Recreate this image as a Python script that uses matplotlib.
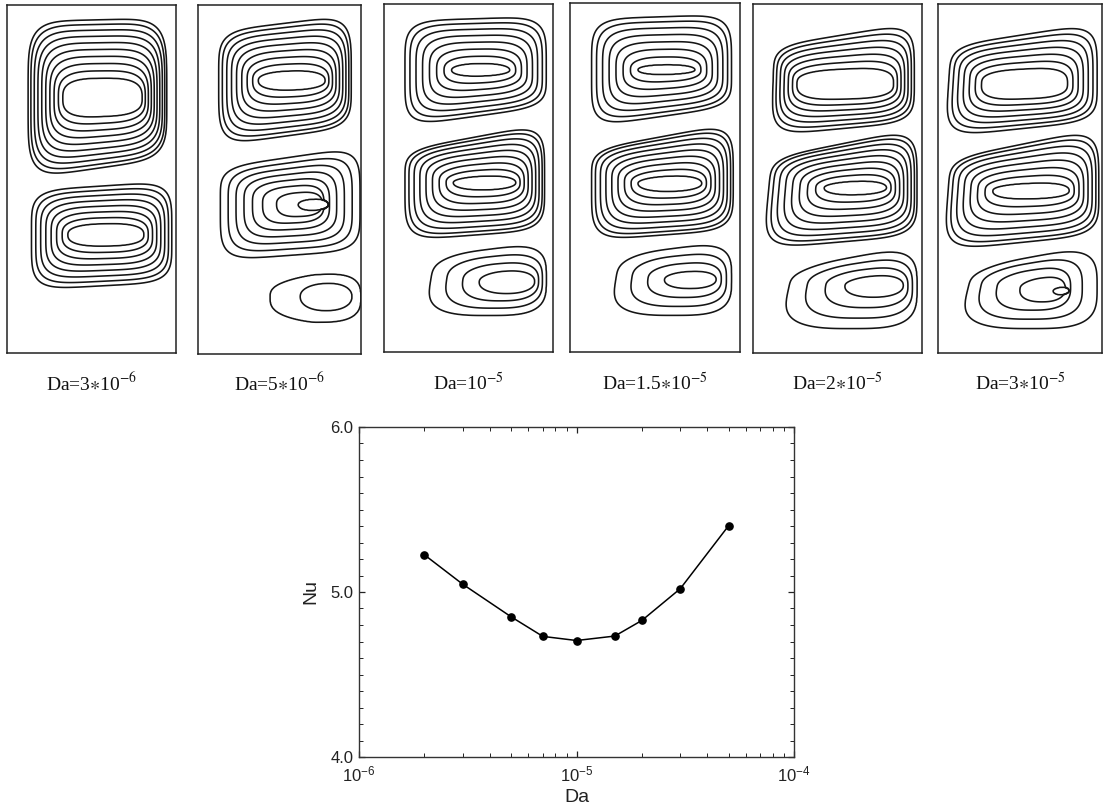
import numpy as np
import matplotlib
matplotlib.use("Agg")
import matplotlib.pyplot as plt
from matplotlib.ticker import MultipleLocator, LogLocator, NullFormatter, FormatStrFormatter

plt.rcParams['mathtext.fontset'] = 'custom'
plt.rcParams['mathtext.rm'] = 'Liberation Sans'
plt.rcParams['mathtext.it'] = 'Liberation Sans:italic'
plt.rcParams['mathtext.bf'] = 'Liberation Sans:bold'
plt.rcParams['font.family'] = ['Liberation Sans', 'DejaVu Sans']

# ---------------- data: Nu vs Da ----------------
da = [2e-6, 3e-6, 5e-6, 7e-6, 1e-5, 1.5e-5, 2e-5, 3e-5, 5e-5]
nu = [5.225, 5.047, 4.850, 4.731, 4.706, 4.733, 4.828, 5.020, 5.401]

x_ticks = [1e-6, 1e-5, 1e-4]
y_ticks = [4.0, 5.0, 6.0]

# ---------------- streamline panels ----------------
panel_labels = [r'Da=3$\ast$10$^{-6}$', r'Da=5$\ast$10$^{-6}$', r'Da=10$^{-5}$',
                r'Da=1.5$\ast$10$^{-5}$', r'Da=2$\ast$10$^{-5}$', r'Da=3$\ast$10$^{-5}$']

# cell: outer box (x0,x1,y0,y1), inner box, n contours, p_out, p_in,
#       top slope, bottom slope, left taper, p_left, cpow, gamma   (fractions of panel box)
cells_p1 = [((0.125, 0.945, 0.502, 0.962), (0.33, 0.80, 0.675, 0.79), 10, 5, 3.0, 0.04, 0.25, 0.0, 1.0, 1.0, 1.15),
            ((0.145, 0.975, 0.182, 0.493), (0.36, 0.81, 0.306, 0.373), 8, 5, 2.6, 0.17, 0.14, 0.0, 1.0, 1.0, 1.1)]
cells_p2 = [((0.127, 0.940, 0.598, 0.971), (0.37, 0.78, 0.754, 0.813), 9, 5, 2.4, 0.25, 0.28, 0.0, 1.0, 1.0, 1.15),
            ((0.137, 0.994, 0.268, 0.593), (0.616, 0.80, 0.411, 0.445), 8, 5, 2.2, 0.36, 0.18, 0.0, 1.0, 6.0, 1.0),
            ((0.443, 0.998, 0.091, 0.234), (0.627, 0.945, 0.124, 0.205), 2, 3, 2.2, 0.20, 0.0, 0.0, 0.45, 1.0, 1.0)]
cells_p3 = [((0.124, 0.960, 0.649, 0.964), (0.40, 0.744, 0.791, 0.829), 8, 5, 2.2, 0.08, 0.36, 0.0, 1.0, 1.0, 1.15),
            ((0.124, 0.950, 0.321, 0.655), (0.41, 0.78, 0.465, 0.508), 9, 5, 2.2, 0.45, 0.18, 0.0, 1.0, 1.0, 1.2),
            ((0.242, 0.960, 0.105, 0.316), (0.557, 0.892, 0.168, 0.237), 4, 3.5, 2.2, 0.42, 0.0, 0.20, 0.8, 1.0, 1.0)]
cells_p4 = [((0.127, 0.950, 0.646, 0.967), (0.40, 0.735, 0.794, 0.823), 8, 5, 2.2, 0.08, 0.36, 0.0, 1.0, 1.0, 1.15),
            ((0.127, 0.960, 0.320, 0.655), (0.40, 0.775, 0.459, 0.507), 9, 5, 2.2, 0.45, 0.18, 0.0, 1.0, 1.0, 1.2),
            ((0.235, 0.950, 0.105, 0.318), (0.55, 0.86, 0.182, 0.234), 4, 3.5, 2.2, 0.42, 0.0, 0.20, 0.8, 1.0, 1.0)]
cells_p5 = [((0.109, 0.954, 0.624, 0.945), (0.257, 0.832, 0.724, 0.82), 7, 5, 3.0, 0.42, 0.24, 0.05, 1.0, 1.0, 1.1),
            ((0.059, 0.970, 0.299, 0.643), (0.416, 0.79, 0.452, 0.495), 9, 5, 2.2, 0.52, 0.22, 0.15, 1.0, 1.0, 1.2),
            ((0.158, 0.970, 0.070, 0.309), (0.535, 0.89, 0.160, 0.227), 4, 3.5, 2.2, 0.62, 0.0, 0.27, 0.8, 1.0, 1.0)]
cells_p6 = [((0.043, 0.970, 0.620, 0.945), (0.26, 0.79, 0.724, 0.82), 7, 5, 3.0, 0.42, 0.28, 0.10, 1.0, 1.0, 1.1),
            ((0.034, 0.980, 0.294, 0.643), (0.329, 0.80, 0.440, 0.49), 8, 5, 2.4, 0.52, 0.26, 0.12, 1.0, 1.0, 1.2),
            ((0.122, 0.970, 0.070, 0.310), (0.70, 0.80, 0.167, 0.19), 5, 3.5, 2.0, 0.62, 0.0, 0.30, 0.8, 3.0, 1.0)]
panel_cells = [cells_p1, cells_p2, cells_p3, cells_p4, cells_p5, cells_p6]

# panel boxes in pixels (x0, x1, ytop, ybottom)
panel_px = [(7, 176, 5, 353), (198, 361, 5, 354), (384, 553, 4, 352),
            (570, 740, 3, 352), (753, 922, 4, 353), (938, 1102, 4, 353)]

W, H = 1103, 808
fig = plt.figure(figsize=(W / 100, H / 100), dpi=100)

gx = np.linspace(0, 1, 320)
gy = np.linspace(0, 1, 660)
X, Y = np.meshgrid(gx, gy)


def level_field(cell):
    ((ox0, ox1, oy0, oy1), (ix0, ix1, iy0, iy1), n, p_out, p_in,
     ts, bs, tl, p_left, cpow, gamma) = cell

    def F(t):
        s = t ** cpow
        k = 1 - t
        ks = 1 - 0.35 * t      # slant persists towards the inner contours
        kt = 1 - 0.6 * t
        cx = (ox0 + ox1) / 2 * (1 - s) + (ix0 + ix1) / 2 * s
        cy = (oy0 + oy1) / 2 * (1 - s) + (iy0 + iy1) / 2 * s
        A = ((ox1 - ox0) * k + (ix1 - ix0) * t) / 2
        B = ((oy1 - oy0) * k + (iy1 - iy0) * t) / 2
        P = p_out * k + p_in * t
        dx = X - cx
        dy = Y - cy
        un = np.clip(dx / A, -1, 1)
        vn = np.clip(dy / B, -1, 1)
        Bt = B * (1 - ts * ks * (1 - un) / 2)
        Bb = B * (1 - bs * ks * (1 + un) / 2)
        Beff = np.where(dy > 0, Bt, Bb)
        Al = A * (1 - tl * kt * (1 + vn) / 2)
        Aeff = np.where(dx < 0, Al, A)
        Pl = np.where(dx < 0, P * (p_left * k + t), P)
        return (np.abs(dx) / Aeff) ** Pl + (np.abs(dy) / Beff) ** P - 1

    f0 = F(np.zeros_like(X))
    f1 = F(np.ones_like(X))
    lo = np.zeros_like(X)
    hi = np.ones_like(X)
    for _ in range(22):
        mid = 0.5 * (lo + hi)
        inside = F(mid) < 0
        lo = np.where(inside, mid, lo)
        hi = np.where(inside, hi, mid)
    T = 0.5 * (lo + hi)
    T = np.where(f0 > 0, -0.3 * f0, T)
    T = np.where(f1 < 0, 1 - 0.3 * f1, T)
    levels = np.linspace(0, 1, n) ** gamma
    return T, levels


for (px0, px1, pyt, pyb), cells, lab in zip(panel_px, panel_cells, panel_labels):
    ax = fig.add_axes([px0 / W, 1 - pyb / H, (px1 - px0) / W, (pyb - pyt) / H])
    ax.set_xlim(0, 1)
    ax.set_ylim(0, 1)
    ax.set_xticks([])
    ax.set_yticks([])
    for sp in ax.spines.values():
        sp.set_linewidth(1.1)
        sp.set_color('#222222')
    for cell in cells:
        T, levels = level_field(cell)
        ax.contour(X, Y, T, levels=levels, colors='#151515', linewidths=1.15)
    fig.text((px0 + px1) / 2 / W, 1 - 383 / H, lab, ha='center', va='center',
             fontsize=14, family=['Liberation Serif', 'DejaVu Serif'],
             math_fontfamily='stix', color='#111111')

# ---------------- Nu vs Da plot ----------------
ax = fig.add_axes([359 / W, 1 - 757 / H, 435 / W, 330 / H])
ax.plot(da, nu, color='black', lw=1.1, marker='o', ms=5.2, mfc='black', mec='black')
ax.set_xscale('log')
ax.set_xlim(1e-6, 1e-4)
ax.set_ylim(4.0, 6.0)
ax.set_xticks(x_ticks)
ax.xaxis.set_minor_locator(LogLocator(base=10, subs=np.arange(2, 10)))
ax.xaxis.set_minor_formatter(NullFormatter())
ax.set_yticks(y_ticks)
ax.yaxis.set_major_formatter(FormatStrFormatter('%.1f'))
ax.yaxis.set_minor_locator(MultipleLocator(0.1))
ax.tick_params(which='both', direction='in', top=True, right=True, labelsize=12,
               colors='#222222', labelcolor='#222222')
ax.tick_params(which='major', length=4, width=0.9)
ax.tick_params(axis='y', which='major', pad=4)
ax.tick_params(axis='x', which='major', pad=5.5)
ax.tick_params(which='minor', length=3, width=0.7)
for sp in ax.spines.values():
    sp.set_linewidth(1.0)
    sp.set_color('#333333')
ax.set_xlabel('Da', fontsize=14, color='#222222')
ax.set_ylabel('Nu', fontsize=14, color='#222222')
ax.xaxis.set_label_coords(0.5, -0.097)
ax.yaxis.set_label_coords(-0.09, 0.5)

fig.savefig('out.png', dpi=100)
